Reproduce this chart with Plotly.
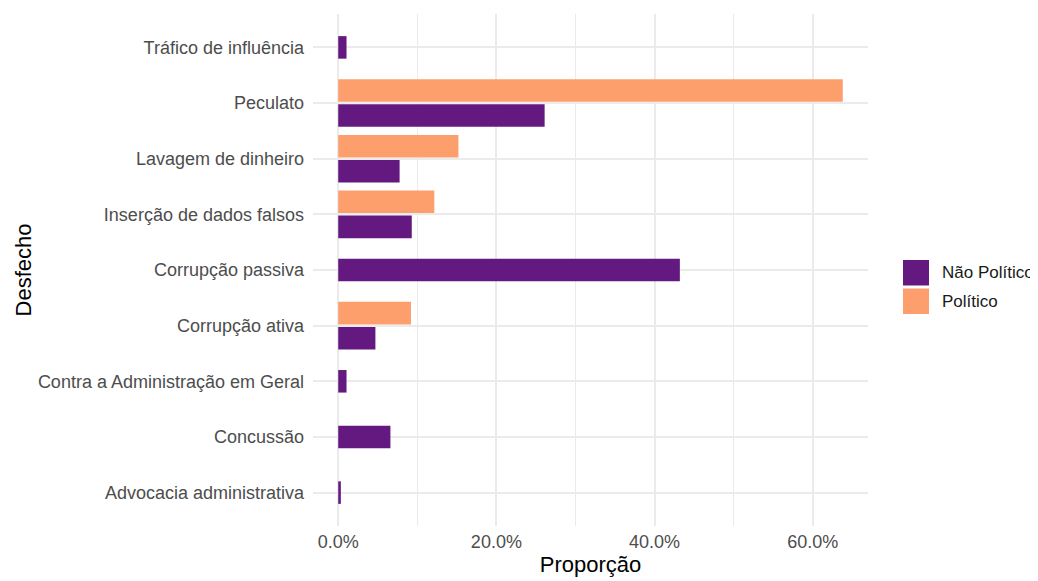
import plotly.graph_objects as go

# categories, bottom to top
categorias = [
    "Advocacia administrativa",
    "Concussão",
    "Contra a Administração em Geral",
    "Corrupção ativa",
    "Corrupção passiva",
    "Inserção de dados falsos",
    "Lavagem de dinheiro",
    "Peculato",
    "Tráfico de influência",
]
nao_politico = [0.0033, 0.066, 0.0105, 0.047, 0.432, 0.093, 0.0776, 0.261, 0.0105]
politico = [None, None, None, 0.092, None, 0.1215, 0.152, 0.638, None]

x_ticks = [0.0, 0.2, 0.4, 0.6]

COR_NAO = "#63197F"
COR_POL = "#FD9F6C"
FONT = "Liberation Sans"

W, H = 1038, 581
OFF = 8  # page body margin pushes the plot by 8px
ML, MT = 313 - OFF, 14 - OFF
MR, MB = W - (868 - OFF), H - (526 - OFF)

# dodge2-like placement: pairs split around the category, singles centred
bw = 0.405
off_nao, off_pol = [], []
for n, p in zip(nao_politico, politico):
    if p is None:
        off_nao.append(-bw / 2)
    else:
        off_nao.append(-0.0225 - bw)
    off_pol.append(0.0225)

fig = go.Figure()
fig.add_trace(go.Bar(
    y=categorias, x=nao_politico, orientation="h", name="Não Político",
    marker=dict(color=COR_NAO, line=dict(width=0)),
    offset=off_nao, width=[bw] * len(categorias), showlegend=False,
))
fig.add_trace(go.Bar(
    y=categorias, x=politico, orientation="h", name="Político",
    marker=dict(color=COR_POL, line=dict(width=0)),
    offset=off_pol, width=[bw] * len(categorias), showlegend=False,
))

xmax = max(max(nao_politico), max(v for v in politico if v is not None))
pad = xmax * 0.05

fig.update_layout(
    width=W, height=H,
    margin=dict(l=ML, r=MR, t=MT, b=MB),
    plot_bgcolor="white", paper_bgcolor="white",
    barmode="overlay",
    font=dict(family=FONT, color="#4D4D4D", size=18),
    xaxis=dict(
        range=[-pad, xmax + pad],
        tickvals=x_ticks, tickformat=".1%",
        showgrid=True, gridcolor="#EBEBEB", gridwidth=2,
        minor=dict(dtick=0.1, tick0=0, showgrid=True, gridcolor="#EBEBEB", gridwidth=1),
        zeroline=False, showline=False, ticks="",
        ticklabelstandoff=3,
        tickfont=dict(size=18, color="#4D4D4D"),
        title=dict(text="Proporção", font=dict(size=22, color="black"), standoff=3),
    ),
    yaxis=dict(
        categoryorder="array", categoryarray=categorias,
        range=[-0.6, len(categorias) - 0.4],
        showgrid=True, gridcolor="#EBEBEB", gridwidth=2,
        zeroline=False, showline=False, ticks="",
        ticklabelstandoff=8,
        tickfont=dict(size=18, color="#4D4D4D"),
        title=dict(text="Desfecho", font=dict(size=22, color="black"), standoff=0),
    ),
)


def px_x(p):
    return (p - OFF - ML) / (W - ML - MR)


def px_y(p):
    return (H - MB - (p - OFF)) / (H - MT - MB)


# legend drawn by hand to get ggplot-sized keys
legend_items = [("Não Político", COR_NAO, 260, 285.5), ("Político", COR_POL, 288.5, 314)]
for label, cor, y0, y1 in legend_items:
    fig.add_shape(type="rect", xref="paper", yref="paper",
                  x0=px_x(903), x1=px_x(929), y0=px_y(y1), y1=px_y(y0),
                  fillcolor=cor, line=dict(width=0))
    fig.add_annotation(xref="paper", yref="paper", x=px_x(940), y=px_y((y0 + y1) / 2),
                       text=label, showarrow=False, xanchor="left", yanchor="middle",
                       font=dict(size=17, color="#1A1A1A", family=FONT))

fig.write_html("out.html")
